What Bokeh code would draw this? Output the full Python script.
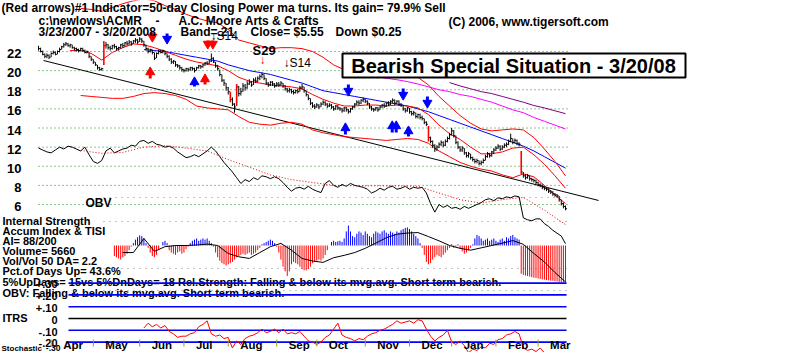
import numpy as np
from bokeh.plotting import figure
from bokeh.models import Range1d
from bokeh.core.properties import value
from bokeh.embed import file_html
from bokeh.resources import INLINE

# ---------------------------------------------------------------- data
# daily bars, trading day 0 = 3/23/2007 ... day 250 = 3/20/2008
close = [22.3, 22.0, 21.7, 21.5, 21.6, 21.4, 21.8, 21.9, 21.7, 22.0,
         22.2, 22.5, 22.7, 22.8, 22.6, 22.7, 22.4, 22.3, 22.2, 22.1,
         22.3, 22.1, 21.9, 22.0, 21.5, 21.2, 20.9, 20.6, 20.3, 20.1,
         20.2, 22.6, 22.7, 22.4, 22.3, 22.6, 22.5, 22.3, 22.4, 22.7,
         22.6, 22.9, 22.8, 23.0, 22.8, 23.1, 23.2, 23.0, 23.3, 23.1,
         22.7, 22.3, 22.0, 22.2, 21.9, 21.3, 21.8, 22.0, 21.9, 22.1,
         21.8, 21.5, 21.2, 20.9, 21.0, 20.6, 20.5, 20.3, 20.1, 20.0,
         20.2, 20.1, 20.3, 20.2, 20.0, 20.3, 20.5, 20.4, 20.6, 20.8,
         20.7, 21.0, 21.3, 20.9, 20.5, 20.2, 19.6, 19.0, 18.7, 18.2,
         17.8, 17.0, 16.5, 16.2, 18.3, 17.6, 17.8, 18.4, 18.2, 18.6,
         18.8, 18.5, 19.0, 18.9, 19.2, 19.4, 19.6, 19.2, 18.7, 18.5,
         18.8, 18.6, 18.4, 18.6, 18.5, 18.7, 18.4, 18.1, 17.9, 18.0,
         17.8, 17.7, 17.9, 17.8, 18.2, 18.3, 17.9, 17.5, 17.1, 16.6,
         16.3, 16.2, 16.4, 16.2, 16.5, 16.7, 16.5, 16.3, 16.4, 16.2,
         16.0, 16.3, 16.1, 16.0, 15.8, 16.1, 15.9, 15.7, 16.0, 16.2,
         16.5, 16.7, 16.6, 16.9, 17.0, 16.8, 16.6, 16.2, 16.0, 15.9,
         16.1, 15.9, 16.2, 16.4, 16.3, 16.6, 16.5, 16.8, 16.9, 16.6,
         16.8, 16.5, 16.4, 16.0, 15.8, 16.1, 15.7, 15.5, 15.6, 15.2,
         15.4, 15.1, 15.0, 14.6, 14.4, 13.0, 12.6, 12.2, 11.8, 12.0,
         12.3, 12.5, 12.2, 12.6, 12.9, 13.3, 13.7, 13.2, 12.5, 12.0,
         11.7, 11.9, 11.4, 11.1, 11.3, 10.9, 10.7, 10.5, 10.6, 10.3,
         10.4, 10.6, 11.0, 11.3, 11.1, 11.5, 11.7, 11.9, 12.1, 11.8,
         12.0, 12.2, 12.3, 12.6, 12.9, 12.5, 12.7, 12.4, 12.3, 9.4,
         9.0, 8.8, 9.0, 8.7, 8.6, 8.5, 8.3, 8.1, 8.0, 7.8,
         7.7, 7.6, 7.4, 7.3, 7.1, 7.0, 6.9, 6.5, 6.1, 5.8,
         5.55]
high = [22.6, 22.4, 22.1, 21.8, 21.8, 21.7, 21.9, 22.1, 22.0, 22.1,
        22.4, 22.6, 22.9, 23.0, 22.9, 22.8, 22.7, 22.5, 22.4, 22.3,
        22.4, 22.4, 22.2, 22.1, 21.9, 21.5, 21.2, 20.9, 20.6, 20.4,
        20.3, 23.1, 23.0, 22.8, 22.6, 22.7, 22.8, 22.6, 22.5, 22.8,
        22.9, 23.0, 23.1, 23.2, 23.1, 23.2, 23.4, 23.3, 23.5, 23.4,
        23.1, 22.7, 22.4, 22.3, 22.2, 21.9, 21.9, 22.2, 22.2, 22.2,
        22.1, 21.8, 21.6, 21.3, 21.1, 21.0, 20.7, 20.6, 20.4, 20.2,
        20.3, 20.3, 20.4, 20.4, 20.3, 20.4, 20.6, 20.6, 20.7, 20.9,
        21.0, 21.1, 21.8, 21.4, 20.9, 20.6, 20.1, 19.6, 19.1, 18.7,
        18.3, 17.8, 17.2, 16.6, 18.6, 18.4, 18.2, 18.7, 18.6, 18.9,
        19.1, 18.9, 19.2, 19.3, 19.4, 19.6, 19.8, 19.6, 19.2, 18.8,
        18.9, 18.9, 18.7, 18.8, 18.8, 18.9, 18.7, 18.5, 18.2, 18.2,
        18.1, 18.0, 18.0, 18.1, 18.4, 18.6, 18.3, 17.9, 17.5, 17.1,
        16.7, 16.5, 16.6, 16.5, 16.7, 16.9, 16.8, 16.6, 16.6, 16.5,
        16.3, 16.4, 16.4, 16.2, 16.1, 16.2, 16.2, 16.0, 16.1, 16.3,
        16.6, 16.9, 16.9, 17.0, 17.2, 17.1, 16.9, 16.6, 16.3, 16.1,
        16.2, 16.2, 16.3, 16.5, 16.6, 16.7, 16.8, 16.9, 17.1, 17.0,
        16.9, 16.9, 16.6, 16.4, 16.1, 16.2, 16.1, 15.8, 15.8, 15.6,
        15.5, 15.5, 15.3, 15.0, 14.7, 14.2, 13.1, 12.7, 12.3, 12.2,
        12.5, 12.7, 12.6, 12.8, 13.1, 13.5, 14.0, 13.8, 13.2, 12.6,
        12.1, 12.1, 11.9, 11.5, 11.5, 11.3, 11.0, 10.8, 10.8, 10.6,
        10.6, 10.8, 11.2, 11.5, 11.4, 11.6, 11.9, 12.1, 12.3, 12.2,
        12.2, 12.4, 12.5, 12.8, 13.4, 12.9, 12.9, 12.8, 12.5, 11.6,
        9.4, 9.2, 9.2, 9.0, 8.8, 8.7, 8.6, 8.4, 8.2, 8.1,
        7.9, 7.8, 7.7, 7.5, 7.4, 7.2, 7.1, 6.9, 6.5, 6.2,
        5.9]
low = [22.1, 21.9, 21.6, 21.3, 21.3, 21.2, 21.4, 21.7, 21.6, 21.7,
       21.9, 22.2, 22.4, 22.6, 22.5, 22.4, 22.3, 22.1, 22.0, 21.9,
       22.0, 22.0, 21.8, 21.8, 21.3, 21.0, 20.7, 20.5, 20.1, 20.0,
       20.0, 20.6, 22.3, 22.2, 22.1, 22.2, 22.3, 22.1, 22.1, 22.3,
       22.4, 22.5, 22.6, 22.7, 22.6, 22.8, 22.9, 22.8, 23.0, 22.9,
       22.5, 22.1, 21.8, 21.9, 21.7, 21.1, 21.3, 21.7, 21.8, 21.8,
       21.6, 21.3, 21.0, 20.7, 20.7, 20.4, 20.3, 20.1, 19.9, 19.8,
       19.9, 19.9, 20.0, 20.0, 19.8, 20.0, 20.2, 20.2, 20.3, 20.5,
       20.6, 20.7, 20.9, 20.8, 20.3, 20.0, 19.4, 18.8, 18.4, 17.9,
       17.5, 16.7, 16.3, 15.6, 16.3, 17.3, 17.4, 17.8, 17.9, 18.1,
       18.5, 18.3, 18.5, 18.7, 18.8, 19.0, 19.2, 19.0, 18.5, 18.3,
       18.4, 18.4, 18.2, 18.3, 18.3, 18.4, 18.2, 17.9, 17.7, 17.7,
       17.6, 17.5, 17.6, 17.6, 17.8, 18.0, 17.7, 17.3, 16.9, 16.4,
       16.1, 16.0, 16.1, 16.0, 16.2, 16.4, 16.3, 16.1, 16.2, 16.0,
       15.8, 15.9, 15.9, 15.8, 15.6, 15.7, 15.7, 15.5, 15.6, 15.9,
       16.1, 16.4, 16.4, 16.5, 16.7, 16.6, 16.4, 16.0, 15.8, 15.7,
       15.8, 15.7, 15.9, 16.1, 16.1, 16.2, 16.3, 16.4, 16.6, 16.4,
       16.5, 16.3, 16.2, 15.8, 15.6, 15.7, 15.5, 15.3, 15.3, 15.0,
       15.0, 14.9, 14.8, 14.4, 14.2, 12.6, 12.4, 11.9, 11.5, 11.6,
       11.9, 12.1, 12.0, 12.1, 12.5, 12.8, 13.2, 13.0, 12.3, 11.8,
       11.5, 11.5, 11.2, 10.9, 10.9, 10.7, 10.5, 10.3, 10.3, 10.1,
       10.1, 10.3, 10.6, 10.9, 10.9, 11.0, 11.3, 11.6, 11.8, 11.6,
       11.7, 11.9, 12.0, 12.2, 12.5, 12.3, 12.4, 12.2, 12.1, 9.2,
       8.8, 8.6, 8.7, 8.5, 8.4, 8.3, 8.1, 7.9, 7.8, 7.6,
       7.5, 7.4, 7.2, 7.1, 6.9, 6.8, 6.7, 6.3, 5.9, 5.6,
       5.4]
red_bar_days = [31, 91, 94, 185, 229]

# moving averages / bands (sampled every 5 trading days)
ma21_days = list(range(15, 251, 5))
ma21 = [22.1, 22.1, 21.8, 21.1, 21.9, 22.4, 22.8, 22.7, 22.4, 22.0,
        21.6, 21.2, 20.9, 20.7, 20.5, 20.0, 19.3, 18.9, 18.7, 18.5,
        18.4, 18.3, 18.1, 17.5, 17.0, 16.6, 16.3, 16.3, 16.4, 16.4,
        16.3, 16.4, 16.3, 16.1, 15.4, 14.3, 13.4, 12.8, 12.0, 11.3,
        11.3, 11.5, 11.9, 12.0, 11.2, 10.2, 9.0, 7.7]
band_days = list(range(20, 251, 5))
upper_band = [26.5, 26.4, 26.2, 26.6, 27.0, 27.3, 27.5, 27.3, 26.8, 26.4,
              25.9, 25.5, 25.2, 25.0, 24.3, 23.2, 22.9, 22.6, 22.3, 22.4,
              22.4, 22.3, 22.0, 21.4, 20.6, 20.1, 19.9, 19.9, 20.0, 20.0,
              20.1, 19.8, 19.3, 18.5, 17.3, 16.3, 15.3, 14.5, 13.9, 13.7,
              13.8, 13.9, 13.8, 13.0, 11.8, 10.5, 9.0]
lower_band = [17.4, 17.3, 17.2, 17.1, 17.1, 17.3, 17.6, 17.7, 17.6, 17.4,
              17.0, 16.3, 16.1, 16.0, 15.9, 15.2, 14.6, 14.4, 14.3, 14.5,
              14.6, 14.4, 13.8, 13.5, 13.3, 13.1, 13.0, 12.9, 12.8, 12.7,
              12.8, 12.9, 12.8, 12.4, 11.6, 11.0, 10.4, 10.0, 9.7, 9.5,
              9.1, 8.8, 9.2, 8.9, 8.0, 7.0, 6.1]
ma50_days = list(range(50, 251, 5))
ma50 = [22.2, 22.1, 22.0, 21.8, 21.6, 21.4, 21.2, 21.0, 20.6, 20.3,
        20.0, 19.8, 19.6, 19.3, 19.0, 18.7, 18.3, 17.9, 17.7, 17.5,
        17.3, 17.1, 16.9, 16.7, 16.5, 16.3, 16.0, 15.7, 15.3, 14.9,
        14.5, 14.1, 13.7, 13.3, 12.9, 12.5, 12.1, 11.6, 11.0, 10.4,
        9.8]
ma_pink_days = list(range(150, 251, 5))
ma_pink = [19.8, 19.6, 19.4, 19.2, 19.05, 18.85, 18.6, 18.3, 18.0, 17.8,
           17.5, 17.3, 17.0, 16.7, 16.3, 15.9, 15.6, 15.1, 14.7, 14.3, 13.9]
ma_purple_days = list(range(195, 251, 5))
ma_purple = [18.75, 18.4, 18.1, 17.8, 17.6, 17.3, 17.0, 16.7, 16.35, 16.1, 15.8, 15.5]
trend_days = [2.4, 265.7]
trend_price = [21.06, 6.42]

# signal arrows: (day, tail/head price extents)
sell_red_days = [54, 80.3, 82.7]
sell_red_top = [24.0, 23.15, 23.15]
sell_red_bot = [23.15, 22.42, 22.42]
sell_blue_days = [61, 147, 173, 184.5]
sell_blue_top = [23.88, 18.55, 18.13, 17.29]
sell_blue_bot = [22.94, 17.50, 17.08, 16.25]
buy_red_days = [53, 79]
buy_red_top = [20.22, 19.49]
buy_red_bot = [19.18, 18.55]
buy_blue_days = [74, 145.6, 167.8, 169.7, 175.5]
buy_blue_top = [19.18, 14.37, 14.58, 14.58, 14.05]
buy_blue_bot = [18.34, 13.32, 13.53, 13.53, 13.11]

# OBV (millions of shares, relative), every 2 days from day 0
obv_days = list(range(0, 251, 2))
obv = [5.9, 5.7, 5.5, 5.4, 5.7, 6.0, 5.8, 6.1, 6.0, 5.8,
       5.6, 6.0, 5.2, 4.5, 4.3, 4.6, 5.6, 5.9, 5.4, 5.6,
       5.8, 5.9, 6.2, 6.1, 6.6, 6.7, 6.4, 6.6, 6.3, 6.2,
       6.0, 6.1, 5.9, 5.5, 5.2, 4.9, 5.0, 5.2, 5.0, 5.3,
       5.6, 6.0, 5.6, 5.0, 4.4, 3.9, 3.4, 2.8, 2.2, 2.6,
       2.4, 2.8, 2.6, 3.0, 2.9, 2.7, 2.9, 2.7, 2.3, 1.8,
       1.4, 1.7, 1.8, 1.6, 1.9, 1.6, 1.4, 1.25, 2.2, 2.5,
       2.0, 1.8, 2.1, 1.9, 2.2, 2.0, 1.9, 1.8, 1.6, 1.2,
       1.4, 1.7, 1.5, 1.8, 1.9, 1.6, 1.7, 1.9, 1.6, 1.8,
       1.7, 1.8, 1.2, 0.1, -0.8, 0.0, -0.3, -0.1, -0.4, -0.3,
       -0.5, -0.2, -0.4, -0.2, 0.0, 0.2, 0.5, 0.6, 0.4, 0.7,
       0.6, 0.8, 0.7, 0.9, 0.8, -1.4, -1.6, -1.7, -1.5, -1.5,
       -2.0, -2.3, -2.7, -3.0, -3.3, -4.1]
obv_ma_days = list(range(20, 251, 10))
obv_ma = [5.65, 5.35, 5.45, 6.0, 6.15, 5.9, 5.6, 4.7, 3.9, 3.1,
          2.6, 2.3, 2.0, 1.95, 1.95, 1.95, 1.9, 1.2, 0.5, 0.15,
          0.5, 0.75, -0.6, -2.1]

# Accumulation Index (daily from day 36) and TISI
ai_start = 36
ai = [-0.45, -0.5, -0.55, -0.6, -0.5, -0.45, -0.35, -0.2, -0.05, 0.1,
      0.25, 0.35, 0.43, 0.4, 0.3, 0.1, -0.1,
      -0.3, -0.45, -0.5, -0.4, -0.2, 0.0,
      0.15, 0.2, 0.1,
      -0.2, -0.3, -0.35, -0.4, -0.3, -0.25, -0.35, -0.3, -0.15, -0.05,
      0.1, 0.2, 0.25, 0.3, 0.2, 0.25, 0.3, 0.25, 0.3, 0.2, 0.1, -0.05,
      -0.3, -0.5, -0.65, -0.75, -0.8, -0.85, -0.8, -0.75, -0.7, -0.6, -0.5, -0.45, -0.4,
      -0.35, -0.4, -0.35, -0.3, -0.4, -0.35, -0.3, -0.2, -0.1, 0.05, 0.1,
      0.15, 0.2, 0.25, 0.2, 0.1, -0.05,
      -0.3, -0.6, -0.9, -1.1, -1.3, -1.1, -0.8, -0.7, -0.75, -0.8, -0.9,
      -1.0, -1.05, -1.06, -1.0, -0.9, -0.75, -0.7, -0.65, -0.6, -0.64, -0.55, -0.4, -0.2, 0.0,
      0.15, 0.2, 0.15, 0.18, 0.2, 0.15, 0.3, 0.6, 0.85, 0.6,
      0.4, 0.35, 0.5, 0.6, 0.55, 0.45, 0.6, 0.5, 0.4, 0.35,
      0.5, 0.6, 0.55, 0.5, 0.6, 0.65, 0.55, 0.5, 0.6, 0.55,
      0.5, 0.6, 0.55, 0.65, 0.7, 0.75, 0.77, 0.7, 0.6, 0.5,
      0.4, 0.3, 0.1, -0.1,
      -0.4, -0.7, -0.8, -0.75, -0.6, -0.5, -0.4, -0.45, -0.5, -0.4, -0.3, -0.2, -0.1,
      0.05, -0.1, -0.05, 0.05, -0.15, -0.25, -0.35, -0.3, -0.2, -0.1, 0.05,
      0.3, 0.45, 0.4, 0.3, 0.2, 0.25, 0.3, 0.2, 0.25, 0.3, 0.2,
      0.15, 0.25, 0.3, 0.2, 0.35, 0.3, 0.4, 0.45, 0.35, 0.3, 0.25,
      -1.2, -1.25, -1.28, -1.3, -1.32, -1.35, -1.37, -1.38, -1.4, -1.42, -1.44,
      -1.45, -1.47, -1.48, -1.5, -1.5, -1.52, -1.53, -1.55, -1.56, -1.57, -1.57]
tisi_days = list(range(40, 251, 5))
tisi = [-0.3, -0.3, 0.3, -0.25, -0.05, 0.0, 0.0, 0.02, 0.06, 0.0,
        -0.34, -0.48, -0.55, -0.3, -0.05, 0.09, -0.2, -0.55, -0.66, -0.72,
        -0.52, -0.42, -0.3, -0.12, 0.1, 0.33, 0.48, 0.53, 0.55, 0.38,
        0.2, 0.0, -0.12, -0.2, -0.1, 0.0, 0.1, 0.21, 0.05, -0.34,
        -0.7, -1.15, -1.55]

# ITRS (relative strength vs market), every 2 days from day 50
itrs_days = list(range(50, 251, 2))
itrs = [-0.08, -0.04, -0.07, -0.05, -0.08, -0.06, -0.11, -0.13, -0.16, -0.15,
        -0.15, -0.13, -0.12, -0.07, -0.05, -0.02, -0.13, -0.15, -0.14, -0.17,
        -0.16, -0.25, -0.19, -0.22, -0.17, -0.15, -0.14, -0.12, -0.09, -0.12,
        -0.11, -0.09, -0.12, -0.09, -0.13, -0.12, -0.13, -0.11, -0.15, -0.19,
        -0.2, -0.22, -0.2, -0.16, -0.14, -0.09, -0.04, -0.14, -0.16, -0.17,
        -0.19, -0.17, -0.18, -0.15, -0.13, -0.12, -0.1, -0.09, -0.07, -0.05,
        -0.02, -0.04, -0.03, -0.02, -0.04, -0.01, -0.02, -0.09, -0.15, -0.19,
        -0.16, -0.14, -0.1, -0.2, -0.22, -0.19, -0.23, -0.29, -0.26, -0.27,
        -0.24, -0.25, -0.21, -0.22, -0.18, -0.17, -0.14, -0.13, -0.11, -0.13,
        -0.25, -0.27, -0.26, -0.28, -0.25, -0.29, -0.31, -0.33, -0.34, -0.35,
        -0.36]
itrs_levels = [0.3, 0.2, 0.1, 0.0, -0.1, -0.2]
itrs_tick_values = [0.3, 0.2, 0.1, 0.0, -0.1, -0.2]
itrs_tick_labels = ["+.30", "+.20", "+.10", "0", "-.10", "-.20"]

price_ticks = [22, 20, 18, 16, 14, 12, 10, 8, 6]
month_labels = ["Apr", "May", "Jun", "Jul", "Aug", "Sep", "Oct", "Nov", "Dec", "Jan", "Feb", "Mar"]
month_start_days = [6, 26, 48, 69, 90, 113, 132, 155, 176, 196, 217, 237]

# ------------------------------------------------- layout helpers (canvas px -> chart units)
X0, DXP, Y22, DYP = 38.0, 2.108, 51.0, 9.5625
def X(px): return (np.asarray(px, dtype=float) - X0) / DXP
def Y(py): return 22 - (np.asarray(py, dtype=float) - Y22) / DYP
def ai_y(v): return Y(245 - 23.5 * np.asarray(v, dtype=float))
def itrs_y(v): return Y(318 - 118 * np.asarray(v, dtype=float))
def obv_y(v): return 6 + np.asarray(v, dtype=float)

FONT = value("Liberation Sans")

p = figure(width=800, height=352, title=None,
           x_range=Range1d(float(X(0)), float(X(800))),
           y_range=Range1d(float(Y(352)), float(Y(0))),
           x_axis_type=None, y_axis_type=None,
           output_backend="svg", toolbar_location=None, min_border=0,
           background_fill_color="white", border_fill_color="white")
p.outline_line_color = None


def txt(xs, ys, texts, size="11px", color="black", align="left", bold=True, xo=0, yo=0):
    p.text(x=list(np.atleast_1d(xs)), y=list(np.atleast_1d(ys)), text=list(texts),
           text_font=FONT, text_font_size=size,
           text_font_style="bold" if bold else "normal", text_color=color,
           text_align=align, text_baseline="middle", x_offset=xo, y_offset=yo)


n = min(len(close), len(high), len(low))
days = np.arange(n)
x_end = float(X(567))

# ---- grid lines (price levels)
for lv in price_ticks:
    p.line([0, x_end], [lv, lv], line_color="#1a8a1a", line_dash="1 3", line_width=1)
for py in [197, 221, 268, 290]:
    p.line([float(X(103)), x_end], [float(Y(py))] * 2, line_color="#8a8a8a", line_dash="1 5", line_width=1)

# ---- left panel texts (under the ITRS lines)
left_texts = ["Internal Strength", "Accum Index & TISI", "AI= 88/200", "Volume= 5660",
              "Vol/Vol 50 DA= 2.2", "Pct.of Days Up= 43.6%",
              "5%UpDays= 15vs 5%DnDays= 18   Rel.Strength: Falling & below its mvg.avg. Short term bearish.",
              "OBV: Falling & below its mvg.avg. Short-term bearish."]
left_py = [220, 230, 240, 250.5, 260, 270, 281.5, 292]
txt([float(X(2))] * len(left_texts), list(Y(left_py)), left_texts, size="11px")

# ---- ITRS panel
x_it0 = float(X(68))
for lv in itrs_levels:
    p.line([x_it0, 250.5], [float(itrs_y(lv))] * 2,
           line_color="black" if lv == 0 else "#0000ff", line_width=1.6)
m = min(len(itrs_days), len(itrs))
p.line(itrs_days[:m], list(itrs_y(itrs[:m])), line_color="#ff0000", line_width=1)
txt([float(X(57))] * len(itrs_tick_labels), list(Y(318 - 118 * np.array(itrs_tick_values)) - 1.3 / DYP),
    itrs_tick_labels, size="11px", align="right")
txt([float(X(2))], [float(Y(317))], ["ITRS"], size="11px")
txt([float(X(1))], [float(Y(347.5))], ["Stochastic"], size="8px")
txt([float(X(60))], [float(Y(347.8))], ["-.30"], size="8.5px", align="right")

# ---- Accumulation index
ai_days = np.arange(ai_start, ai_start + len(ai))
ai_arr = np.array(ai)
zero = float(ai_y(0))
pos = ai_arr >= 0
p.segment(x0=list(ai_days[pos]), y0=[zero] * int(pos.sum()), x1=list(ai_days[pos]),
          y1=list(ai_y(ai_arr[pos])), line_color="#0000ff", line_width=1)
p.segment(x0=list(ai_days[~pos]), y0=[zero] * int((~pos).sum()), x1=list(ai_days[~pos]),
          y1=list(ai_y(ai_arr[~pos])), line_color="#ff0000", line_width=1)
m = min(len(tisi_days), len(tisi))
p.line(tisi_days[:m], list(ai_y(tisi[:m])), line_color="black", line_width=1)

# ---- OBV
m = min(len(obv_days), len(obv))
p.line(obv_days[:m], list(obv_y(obv[:m])), line_color="black", line_width=1)
m = min(len(obv_ma_days), len(obv_ma))
p.line(obv_ma_days[:m], list(obv_y(obv_ma[:m])), line_color="#e00000", line_width=1, line_dash="1 2")

# ---- bands and averages
p.line(trend_days, trend_price, line_color="black", line_width=1)
p.line(ma_pink_days, ma_pink, line_color="#ff00ff", line_width=1)
p.line(ma_purple_days, ma_purple, line_color="#800080", line_width=1)
p.line(ma50_days, ma50, line_color="#0000ff", line_width=1)
p.line(band_days, upper_band, line_color="#ff0000", line_width=1)
p.line(band_days, lower_band, line_color="#ff0000", line_width=1)
p.line(ma21_days, ma21, line_color="#ff0000", line_width=1)

# ---- price bars
hi = np.array(high[:n]); lo = np.array(low[:n]); cl = np.array(close[:n])
is_red = np.isin(days, red_bar_days)
p.segment(x0=list(days[~is_red]), y0=list(lo[~is_red]), x1=list(days[~is_red]), y1=list(hi[~is_red]),
          line_color="black", line_width=1)
p.segment(x0=list(days), y0=list(cl), x1=list(days + 0.75), y1=list(cl), line_color="black", line_width=1)
p.segment(x0=list(days[is_red]), y0=list(lo[is_red]), x1=list(days[is_red]), y1=list(hi[is_red]),
          line_color="#ff0000", line_width=1.6)

# ---- arrows
def arrows(dd, tops, bots, color, down):
    tops = np.array(tops); bots = np.array(bots); h = 4.0 / DYP
    if down:
        p.segment(x0=dd, y0=list(tops), x1=dd, y1=list(bots + h), line_color=color, line_width=3)
        p.scatter(dd, list(bots + h * 0.9), marker="inverted_triangle", size=9,
                  fill_color=color, line_color=color)
    else:
        p.segment(x0=dd, y0=list(bots), x1=dd, y1=list(tops - h), line_color=color, line_width=3)
        p.scatter(dd, list(tops - h * 0.9), marker="triangle", size=9,
                  fill_color=color, line_color=color)

arrows(sell_red_days, sell_red_top, sell_red_bot, "#ff0000", True)
arrows(sell_blue_days, sell_blue_top, sell_blue_bot, "#0000ff", True)
arrows(buy_red_days, buy_red_top, buy_red_bot, "#ff0000", False)
arrows(buy_blue_days, buy_blue_top, buy_blue_bot, "#0000ff", False)

# ---- signal texts
txt([float(X(252))], [float(Y(50))], ["S29"], size="13px")
txt([float(X(283))], [float(Y(62))], ["\u2193S14"], size="12px", bold=False)
txt([float(X(210))], [float(Y(35))], ["\u2193S14"], size="12px", bold=False)
txt([float(X(262))], [float(Y(59))], ["\u2193"], size="12px", color="#ff0000", bold=False, align="center")

# ---- title box
p.quad(left=[float(X(342))], right=[float(X(685))], top=[float(Y(53))], bottom=[float(Y(77))],
       fill_color="white", line_color="black", line_width=2)
txt([float(X(513))], [float(Y(65.5))], ["Bearish Special Situation - 3/20/08"], size="20px", align="center")

# ---- header
txt([float(X(1))], [float(Y(7))],
    ["(Red arrows)#1 Indicator=50-day Closing Power ma turns. Its gain= 79.9% Sell"], size="12px")
txt(list(X([38, 155, 178, 448])), list(Y([20, 20, 20, 21])),
    ["c:\\newlows\\ACMR", "-", "A.C. Moore Arts & Crafts", "(C) 2006, www.tigersoft.com"], size="12px")
txt(list(X([38, 180, 250, 335])), list(Y([31, 31, 31, 31])),
    ["3/23/2007 - 3/20/2008", "Band=.21", "Close= $5.55", "Down $0.25"], size="12px")

# ---- price scale labels, OBV label, months
txt([float(X(21))] * len(price_ticks), price_ticks, [str(t) for t in price_ticks],
    size="13px", align="right", yo=2)
txt([float(X(85))], [float(Y(202))], ["OBV"], size="12px")
p.segment(x0=month_start_days, y0=[float(Y(339))] * len(month_start_days),
          x1=month_start_days, y1=[float(Y(346))] * len(month_start_days),
          line_color="#9a9a20", line_width=1)
txt(month_start_days, [float(Y(344.5))] * len(month_start_days), month_labels, size="11.5px", xo=12)

open("out.html", "w").write(file_html(p, INLINE))
